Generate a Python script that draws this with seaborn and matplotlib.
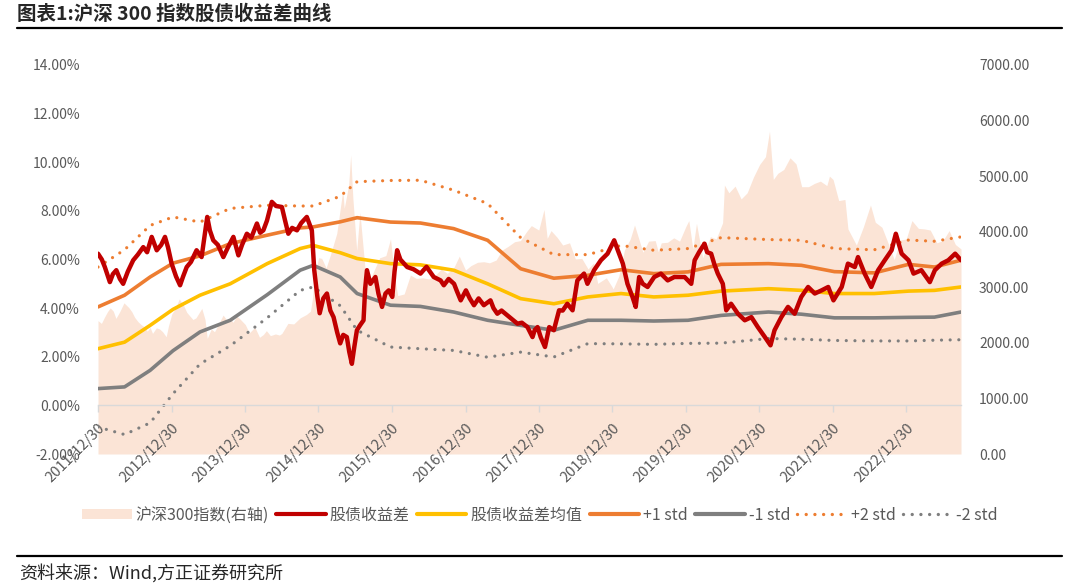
import numpy as np
import pandas as pd
import matplotlib
matplotlib.use("Agg")
import matplotlib.pyplot as plt
import seaborn as sns
from matplotlib.patches import Patch
from matplotlib.lines import Line2D

sns.set_theme(style="white")
plt.rcParams["font.family"] = ["Noto Sans CJK SC", "DejaVu Sans"]
plt.rcParams["axes.unicode_minus"] = False

# ---------------- data ----------------
csi_dates = [
    "2011-12-30", "2012-01-16", "2012-01-31", "2012-02-15", "2012-02-29", "2012-03-15", "2012-03-28",
    "2012-04-16", "2012-05-07", "2012-05-31", "2012-06-15", "2012-06-29", "2012-07-16", "2012-07-31",
    "2012-08-15", "2012-08-31", "2012-09-14", "2012-09-26", "2012-10-15", "2012-10-31", "2012-11-15",
    "2012-12-03", "2012-12-14", "2012-12-31", "2013-01-15", "2013-02-06", "2013-02-28", "2013-03-15",
    "2013-03-29", "2013-04-15", "2013-04-30", "2013-05-29", "2013-06-14", "2013-06-25", "2013-07-15",
    "2013-07-31", "2013-08-15", "2013-09-12", "2013-09-30", "2013-10-16", "2013-10-31", "2013-11-18",
    "2013-12-02", "2013-12-31", "2014-01-20", "2014-02-17", "2014-03-12", "2014-03-31", "2014-04-15",
    "2014-05-05", "2014-05-30", "2014-06-19", "2014-07-01", "2014-07-31", "2014-08-29", "2014-09-30",
    "2014-10-31", "2014-11-20", "2014-12-01", "2014-12-09", "2014-12-31", "2015-01-15", "2015-02-06",
    "2015-02-27", "2015-03-31", "2015-04-30", "2015-05-07", "2015-05-29", "2015-06-08", "2015-06-19",
    "2015-07-08", "2015-07-24", "2015-08-26", "2015-09-15", "2015-10-30", "2015-11-30", "2015-12-23",
    "2016-01-15", "2016-01-28", "2016-02-29", "2016-03-31", "2016-04-29", "2016-05-31", "2016-06-30",
    "2016-07-29", "2016-08-31", "2016-09-30", "2016-10-31", "2016-11-29", "2016-12-30", "2017-01-26",
    "2017-02-28", "2017-03-31", "2017-04-28", "2017-05-31", "2017-06-30", "2017-07-31", "2017-08-31",
    "2017-09-29", "2017-10-31", "2017-11-22", "2017-12-29", "2018-01-24", "2018-02-09", "2018-02-28",
    "2018-03-30", "2018-04-27", "2018-05-31", "2018-06-29", "2018-07-31", "2018-08-31", "2018-09-28",
    "2018-10-18", "2018-11-30", "2018-12-28", "2019-01-03", "2019-01-31", "2019-02-28", "2019-03-29",
    "2019-04-19", "2019-05-31", "2019-06-28", "2019-07-31", "2019-08-15", "2019-08-30", "2019-09-30",
    "2019-10-31", "2019-11-29", "2019-12-31", "2020-01-14", "2020-02-03", "2020-02-21", "2020-03-23",
    "2020-04-30", "2020-05-29", "2020-06-30", "2020-07-09", "2020-07-31", "2020-08-31", "2020-09-30",
    "2020-10-30", "2020-11-30", "2020-12-31", "2021-01-29", "2021-02-18", "2021-03-09", "2021-03-31",
    "2021-04-30", "2021-05-31", "2021-06-30", "2021-07-28", "2021-08-31", "2021-09-30", "2021-10-29",
    "2021-11-30", "2021-12-13", "2021-12-31", "2022-01-28", "2022-02-28", "2022-03-15", "2022-04-26",
    "2022-05-31", "2022-07-05", "2022-07-29", "2022-08-31", "2022-09-30", "2022-10-31", "2022-11-30",
    "2022-12-30", "2023-01-27", "2023-02-28", "2023-03-31", "2023-04-28", "2023-05-31", "2023-06-30",
    "2023-07-31", "2023-08-31", "2023-09-28",
]
csi_values = [
    2400, 2350, 2460, 2560, 2630, 2570, 2440,
    2560, 2720, 2635, 2560, 2460, 2380, 2330,
    2290, 2210, 2280, 2170, 2270, 2250, 2200,
    2110, 2300, 2522, 2600, 2790, 2670, 2550,
    2490, 2420, 2450, 2620, 2420, 2080, 2250,
    2200, 2300, 2500, 2410, 2450, 2370, 2480,
    2440, 2330, 2180, 2280, 2100, 2150, 2220,
    2130, 2160, 2140, 2170, 2350, 2340, 2450,
    2510, 2570, 2820, 3200, 3533, 3520, 3350,
    3580, 3970, 4750, 4420, 4840, 5380, 4600,
    3660, 4350, 3030, 3160, 3530, 3570, 3870,
    3120, 2850, 2880, 3220, 3160, 3170, 3150,
    3200, 3330, 3250, 3340, 3560, 3310, 3390,
    3450, 3460, 3440, 3490, 3670, 3740, 3820,
    3840, 4010, 4110, 4030, 4400, 3880, 4020,
    3900, 3760, 3800, 3510, 3520, 3330, 3440,
    3070, 3170, 3010, 2970, 3200, 3670, 3870,
    4120, 3630, 3830, 3840, 3640, 3800, 3810,
    3890, 3830, 4100, 4200, 3690, 4150, 3530,
    3910, 3870, 4160, 4840, 4700, 4820, 4590,
    4700, 4980, 5210, 5350, 5810, 4940, 5050,
    5120, 5330, 5220, 4810, 4810, 4870, 4910,
    4830, 5000, 4940, 4560, 4580, 4050, 3760,
    4090, 4480, 4170, 4080, 3800, 3500, 3850,
    3870, 4200, 4060, 4050, 4030, 3800, 3840,
    4020, 3770, 3690,
]

spread_dates = [
    "2011-12-30", "2012-01-18", "2012-02-02", "2012-02-27", "2012-03-13", "2012-03-30", "2012-04-17",
    "2012-05-03", "2012-05-26", "2012-06-22", "2012-07-15", "2012-08-11", "2012-08-30", "2012-09-22",
    "2012-10-17", "2012-11-08", "2012-11-27", "2012-12-12", "2012-12-30", "2013-01-21", "2013-02-10",
    "2013-02-25", "2013-03-15", "2013-04-05", "2013-05-03", "2013-05-28", "2013-06-25", "2013-07-08",
    "2013-07-25", "2013-08-17", "2013-09-13", "2013-10-06", "2013-11-02", "2013-11-27", "2013-12-15",
    "2014-01-08", "2014-01-30", "2014-02-27", "2014-03-15", "2014-03-31", "2014-04-18", "2014-05-12",
    "2014-06-02", "2014-07-01", "2014-07-17", "2014-08-02", "2014-08-21", "2014-09-14", "2014-10-05",
    "2014-11-02", "2014-11-27", "2014-12-09", "2014-12-24", "2015-01-05", "2015-01-23", "2015-02-10",
    "2015-02-27", "2015-03-15", "2015-04-02", "2015-04-17", "2015-05-02", "2015-05-20", "2015-06-01",
    "2015-06-14", "2015-06-26", "2015-07-09", "2015-07-25", "2015-08-11", "2015-08-19", "2015-08-28",
    "2015-09-14", "2015-10-09", "2015-10-24", "2015-11-11", "2015-11-28", "2015-12-14", "2016-01-01",
    "2016-01-12", "2016-01-25", "2016-02-10", "2016-03-15", "2016-04-15", "2016-05-20", "2016-06-19",
    "2016-07-25", "2016-08-28", "2016-09-13", "2016-10-07", "2016-11-03", "2016-11-17", "2016-12-06",
    "2017-01-01", "2017-01-20", "2017-02-10", "2017-03-05", "2017-03-31", "2017-05-03", "2017-05-18",
    "2017-06-06", "2017-06-27", "2017-07-26", "2017-08-16", "2017-09-14", "2017-10-06", "2017-11-03",
    "2017-11-28", "2017-12-09", "2017-12-23", "2018-01-08", "2018-01-29", "2018-02-19", "2018-03-14",
    "2018-04-09", "2018-04-27", "2018-05-20", "2018-06-15", "2018-07-09", "2018-08-11", "2018-08-28",
    "2018-09-30", "2018-11-03", "2018-12-06", "2019-01-08", "2019-01-26", "2019-02-20", "2019-03-15",
    "2019-04-09", "2019-04-25", "2019-05-12", "2019-05-30", "2019-06-23", "2019-07-26", "2019-08-28",
    "2019-10-01", "2019-11-03", "2019-12-24", "2020-01-26", "2020-02-12", "2020-03-05", "2020-04-01",
    "2020-04-14", "2020-05-04", "2020-05-20", "2020-06-06", "2020-07-01", "2020-07-18", "2020-08-11",
    "2020-09-14", "2020-10-18", "2020-11-20", "2020-12-22", "2021-01-26", "2021-02-23", "2021-03-15",
    "2021-04-18", "2021-05-21", "2021-06-23", "2021-07-26", "2021-08-29", "2021-10-01", "2021-11-04",
    "2021-12-07", "2022-01-02", "2022-02-12", "2022-03-15", "2022-04-18", "2022-05-04", "2022-06-06",
    "2022-07-09", "2022-08-12", "2022-09-14", "2022-10-18", "2022-11-08", "2022-12-07", "2023-01-10",
    "2023-02-04", "2023-03-15", "2023-04-26", "2023-05-21", "2023-06-24", "2023-07-27", "2023-08-30",
    "2023-09-28",
]
spread_values = [
    6.24, 6.00, 5.69, 5.07, 5.40, 5.56, 5.20,
    5.00, 5.50, 5.97, 6.20, 6.51, 6.30, 6.93,
    6.38, 6.60, 6.93, 6.50, 5.83, 5.30, 4.94,
    5.30, 5.69, 5.90, 6.38, 6.10, 7.75, 7.20,
    6.79, 6.60, 6.10, 6.50, 6.93, 6.17, 6.60,
    7.06, 6.90, 7.48, 7.10, 7.20, 7.60, 8.37,
    8.20, 8.16, 7.60, 7.06, 7.30, 7.20, 7.50,
    7.75, 7.20, 5.56, 4.50, 3.79, 4.40, 4.60,
    3.90, 3.63, 3.00, 2.55, 2.90, 2.81, 2.20,
    1.71, 2.40, 3.09, 3.30, 3.50, 4.80, 5.56,
    5.00, 5.28, 4.60, 4.05, 4.60, 4.73, 4.46,
    5.50, 6.38, 6.00, 5.69, 5.60, 5.42, 5.70,
    5.28, 5.14, 4.94, 5.20, 5.00, 4.70, 4.32,
    4.73, 4.40, 4.12, 4.40, 4.12, 4.32, 4.00,
    3.77, 3.90, 3.70, 3.55, 3.36, 3.40, 3.22,
    2.81, 3.10, 3.22, 2.80, 2.40, 3.22, 3.09,
    3.91, 3.90, 4.18, 3.91, 5.14, 5.42, 5.00,
    5.56, 5.97, 6.24, 6.79, 6.38, 5.83, 5.00,
    4.46, 4.05, 5.28, 5.00, 4.87, 5.28, 5.42,
    5.14, 5.28, 5.28, 5.00, 5.97, 6.30, 6.65,
    6.30, 6.24, 5.80, 5.42, 5.00, 3.91, 4.18,
    3.77, 3.50, 3.63, 3.22, 2.81, 2.47, 3.09,
    3.63, 4.05, 3.77, 4.46, 4.87, 4.60, 4.73,
    4.87, 4.32, 4.87, 5.83, 5.69, 6.10, 5.42,
    4.87, 5.56, 5.97, 6.38, 7.06, 6.24, 5.97,
    5.42, 5.56, 5.07, 5.56, 5.83, 5.97, 6.24,
    5.97,
]

band_dates = [
    "2011-12-30", "2012-05-10", "2012-09-14", "2013-01-06", "2013-05-20", "2013-10-17", "2014-04-19",
    "2014-09-30", "2014-12-04", "2015-04-17", "2015-07-10", "2015-12-23", "2016-05-20", "2016-11-01",
    "2017-04-19", "2017-09-30", "2018-03-14", "2018-08-30", "2019-02-11", "2019-07-24", "2020-01-10",
    "2020-06-22", "2021-02-13", "2021-07-27", "2022-01-07", "2022-07-24", "2023-01-10", "2023-05-19",
    "2023-09-28",
]
mean_values = [
    2.33, 2.60, 3.29, 3.95, 4.53, 5.00, 5.83,
    6.45, 6.58, 6.28, 6.04, 5.83, 5.78, 5.56,
    5.00, 4.39, 4.18, 4.46, 4.60, 4.46, 4.53,
    4.70, 4.80, 4.73, 4.60, 4.60, 4.70, 4.73,
    4.87,
]
plus1_values = [
    4.05, 4.53, 5.28, 5.85, 6.15, 6.65, 7.00,
    7.30, 7.34, 7.55, 7.72, 7.54, 7.50, 7.27,
    6.79, 5.62, 5.23, 5.35, 5.58, 5.42, 5.49,
    5.80, 5.83, 5.76, 5.50, 5.45, 5.80, 5.69,
    5.97,
]
minus1_values = [
    0.69, 0.76, 1.44, 2.25, 3.02, 3.50, 4.55,
    5.56, 5.76, 5.28, 4.60, 4.12, 4.07, 3.84,
    3.50, 3.29, 3.09, 3.50, 3.50, 3.47, 3.50,
    3.70, 3.84, 3.75, 3.60, 3.60, 3.62, 3.63,
    3.84,
]
plus2_values = [
    5.69, 6.40, 7.40, 7.75, 7.54, 8.10, 8.23,
    8.20, 8.20, 8.60, 9.20, 9.25, 9.26, 8.85,
    8.30, 6.90, 6.20, 6.20, 6.58, 6.38, 6.45,
    6.90, 6.82, 6.79, 6.45, 6.40, 6.80, 6.75,
    6.93,
]
minus2_values = [
    -0.89, -1.20, -0.72, 0.48, 1.70, 2.45, 3.60,
    4.73, 4.87, 4.10, 3.09, 2.40, 2.33, 2.26,
    1.98, 2.19, 1.99, 2.54, 2.53, 2.51, 2.55,
    2.56, 2.75, 2.72, 2.67, 2.65, 2.65, 2.68,
    2.70,
]

tick_labels = ["2011/12/30", "2012/12/30", "2013/12/30", "2014/12/30", "2015/12/30", "2016/12/30",
               "2017/12/30", "2018/12/30", "2019/12/30", "2020/12/30", "2021/12/30", "2022/12/30"]
left_ticks = [-2, 0, 2, 4, 6, 8, 10, 12, 14]
right_ticks = [0, 1000, 2000, 3000, 4000, 5000, 6000, 7000]

legend_labels = ["沪深300指数(右轴)", "股债收益差", "股债收益差均值", "+1 std", "-1 std", "+2 std", "-2 std"]
title_text = "图表1:沪深 300 指数股债收益差曲线"
source_text = "资料来源：Wind,方正证券研究所"

# ---------------- styling ----------------
AREA = "#FBE4D6"
RED = "#C00000"
YELLOW = "#FFC000"
ORANGE = "#ED7D31"
GRAY = "#7F7F7F"
TXT = "#595959"
DOT = (0, (0.01, 2.7))

csi_x = pd.to_datetime(csi_dates)
spread_x = pd.to_datetime(spread_dates)
band_x = pd.to_datetime(band_dates)

fig = plt.figure(figsize=(10.8, 5.86), dpi=100)
ax = fig.add_axes([98 / 1080, 1 - 454 / 586, (961 - 98) / 1080, (454 - 65) / 586])
ax2 = ax.twinx()

# area (right axis)
ax2.fill_between(csi_x, 0, csi_values, color=AREA, linewidth=0)
ax2.set_ylim(0, 7000)
ax2.set_yticks(right_ticks)
ax2.set_yticklabels([f"{v:.2f}" for v in right_ticks])

# lines (left axis)
line_specs = [
    (band_x, plus2_values, ORANGE, 2.3, DOT),
    (band_x, minus2_values, GRAY, 2.3, DOT),
    (band_x, plus1_values, ORANGE, 2.6, "-"),
    (band_x, minus1_values, GRAY, 2.6, "-"),
    (band_x, mean_values, YELLOW, 2.6, "-"),
    (spread_x, spread_values, RED, 3.2, "-"),
]
for xs, ys, col, lw, ls in line_specs:
    sns.lineplot(x=xs, y=ys, ax=ax, color=col, linewidth=lw, linestyle=ls,
                 dash_capstyle="round", solid_capstyle="round", solid_joinstyle="round",
                 legend=False, sort=False)

ax.set_ylim(-2, 14)
ax.set_yticks(left_ticks)
ax.set_yticklabels([f"{v:.2f}%" for v in left_ticks])
ax.set_xlim(pd.Timestamp("2011-12-30"), pd.Timestamp("2023-09-28"))
tick_x = pd.to_datetime([t.replace("/", "-") for t in tick_labels])
ax.set_xticks(tick_x)
ax.set_xticklabels(tick_labels)
ax.set_xlabel("")
ax.set_ylabel("")

ax.set_zorder(ax2.get_zorder() + 1)
ax.patch.set_visible(False)
for s in ["left", "right", "top"]:
    ax.spines[s].set_visible(False)
for s in ax2.spines.values():
    s.set_visible(False)
ax.spines["bottom"].set_position(("data", 0))
ax.spines["bottom"].set_color("#D9D9D9")
ax.spines["bottom"].set_linewidth(1.0)
ax.grid(False)
ax2.grid(False)

ax.tick_params(axis="x", direction="out", length=5, width=1, color="#D9D9D9",
               labelsize=10.5, labelcolor=TXT, pad=6, bottom=True, labelrotation=45)
ax.tick_params(axis="y", length=0, labelsize=10, labelcolor=TXT, pad=13)
ax2.tick_params(axis="y", length=0, labelsize=10, labelcolor=TXT, pad=13)
for lab in ax.get_xticklabels():
    lab.set_horizontalalignment("right")
    lab.set_verticalalignment("top")
    lab.set_rotation_mode("anchor")

# legend
handles = [
    Patch(facecolor=AREA, edgecolor="none"),
    Line2D([0], [0], color=RED, lw=3.0),
    Line2D([0], [0], color=YELLOW, lw=3.0),
    Line2D([0], [0], color=ORANGE, lw=3.0),
    Line2D([0], [0], color=GRAY, lw=3.0),
    Line2D([0], [0], color=ORANGE, lw=2.4, linestyle=(0, (0.01, 2.6)), dash_capstyle="round"),
    Line2D([0], [0], color=GRAY, lw=2.4, linestyle=(0, (0.01, 2.6)), dash_capstyle="round"),
]
leg = fig.legend(handles, legend_labels, loc="center", bbox_to_anchor=(0.5, 1 - 515 / 586),
                 ncol=7, frameon=False, fontsize=11.5, handlelength=3.1, handleheight=0.6,
                 handletextpad=0.25, columnspacing=0.45)
for t in leg.get_texts():
    t.set_color(TXT)

# title & source
fig.text(17 / 1080, 1 - 14 / 586, title_text, fontsize=14, fontweight="bold", color="#262626",
         ha="left", va="center")
fig.add_artist(Line2D([17 / 1080, 1062 / 1080], [1 - 28 / 586, 1 - 28 / 586], color="black", lw=1.6,
                      transform=fig.transFigure))
fig.add_artist(Line2D([17 / 1080, 1062 / 1080], [1 - 556 / 586, 1 - 556 / 586], color="black", lw=1.6,
                      transform=fig.transFigure))
fig.text(19 / 1080, 1 - 573 / 586, source_text, fontsize=13, color="#262626", ha="left", va="center")

fig.savefig("out.png", dpi=100)
